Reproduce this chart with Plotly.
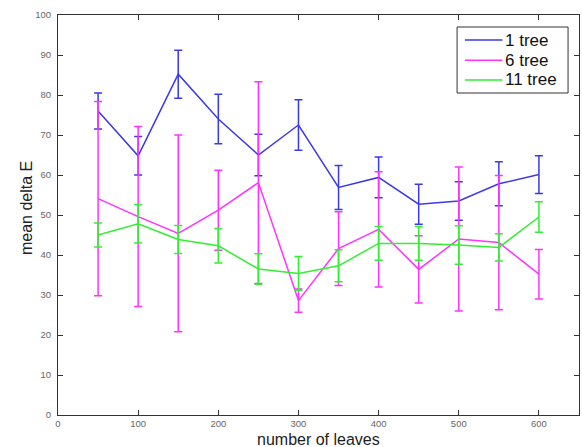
import plotly.graph_objects as go

leaves = [50, 100, 150, 200, 250, 300, 350, 400, 450, 500, 550, 600]

tree1_mean = [76.0, 64.8, 85.2, 74.0, 65.0, 72.5, 56.9, 59.4, 52.7, 53.5, 57.8, 60.1]
tree1_err = [4.5, 4.8, 6.0, 6.2, 5.2, 6.3, 5.5, 5.1, 5.0, 4.8, 5.5, 4.7]

tree6_mean = [54.1, 49.6, 45.4, 51.2, 58.1, 28.6, 41.6, 46.4, 36.4, 44.0, 43.1, 35.2]
tree6_err = [24.3, 22.5, 24.6, 10.0, 25.2, 2.9, 9.2, 14.4, 8.4, 18.0, 16.8, 6.2]

tree11_mean = [45.0, 47.8, 43.9, 42.3, 36.5, 35.4, 37.3, 42.9, 42.9, 42.5, 41.9, 49.5]
tree11_err = [3.0, 4.8, 3.5, 4.3, 3.8, 4.2, 4.0, 4.2, 4.2, 4.8, 3.4, 3.8]

series_names = ["1 tree", "6 tree", "11 tree"]
colors = ["#3a3ae8", "#ff33ff", "#33ee33"]

FONT = "Liberation Sans, Arial, sans-serif"

fig = go.Figure()
for name, m, e, c in zip(series_names,
                         [tree1_mean, tree6_mean, tree11_mean],
                         [tree1_err, tree6_err, tree11_err],
                         colors):
    fig.add_trace(go.Scatter(
        x=leaves, y=m, mode="lines", name=name, showlegend=False,
        line=dict(color=c, width=1.5),
        error_y=dict(type="data", array=e, visible=True, color=c,
                     thickness=1.5, width=4),
    ))

axis_common = dict(
    showline=True, linecolor="#333333", linewidth=1, mirror="ticks",
    ticks="inside", ticklen=5, tickcolor="#333333",
    showgrid=False, zeroline=False, automargin=False,
    tickfont=dict(family=FONT, size=9.5, color="#666666"),
)

# Legend box (drawn in paper coordinates)
shapes = [dict(type="rect", xref="paper", yref="paper",
               x0=0.766, x1=0.979, y0=0.805, y1=0.97,
               line=dict(color="#333333", width=1), fillcolor="white", layer="above")]
annotations = []
leg_y = [0.9375, 0.887, 0.8375]
for name, c, yy in zip(series_names, colors, leg_y):
    shapes.append(dict(type="line", xref="paper", yref="paper",
                       x0=0.781, x1=0.853, y0=yy, y1=yy,
                       line=dict(color=c, width=1.5), layer="above"))
    annotations.append(dict(text=name, xref="paper", yref="paper", x=0.855, y=yy,
                            xanchor="left", yanchor="middle", showarrow=False,
                            font=dict(family=FONT, size=17, color="#111111")))

annotations += [
    dict(text="number of leaves", xref="paper", yref="paper", x=0.5, y=-0.06,
         xanchor="center", yanchor="middle", showarrow=False,
         font=dict(family=FONT, size=16, color="#222222")),
    dict(text="mean delta E", xref="paper", yref="paper", x=-0.0614, y=0.5175,
         xanchor="center", yanchor="middle", showarrow=False, textangle=-90,
         font=dict(family=FONT, size=16, color="#222222")),
]

fig.update_layout(
    width=582, height=447,
    margin=dict(l=58, r=3, t=15, b=32),
    paper_bgcolor="white", plot_bgcolor="white",
    xaxis=dict(range=[0, 650], dtick=100, tick0=0, **axis_common),
    yaxis=dict(range=[0, 100], dtick=10, tick0=0, ticklabelstandoff=4, **axis_common),
    showlegend=False,
    shapes=shapes,
    annotations=annotations,
)

fig.write_html("out.html", config={"displayModeBar": False},
               post_script="document.body.style.margin='0';document.body.style.overflow='hidden';")
